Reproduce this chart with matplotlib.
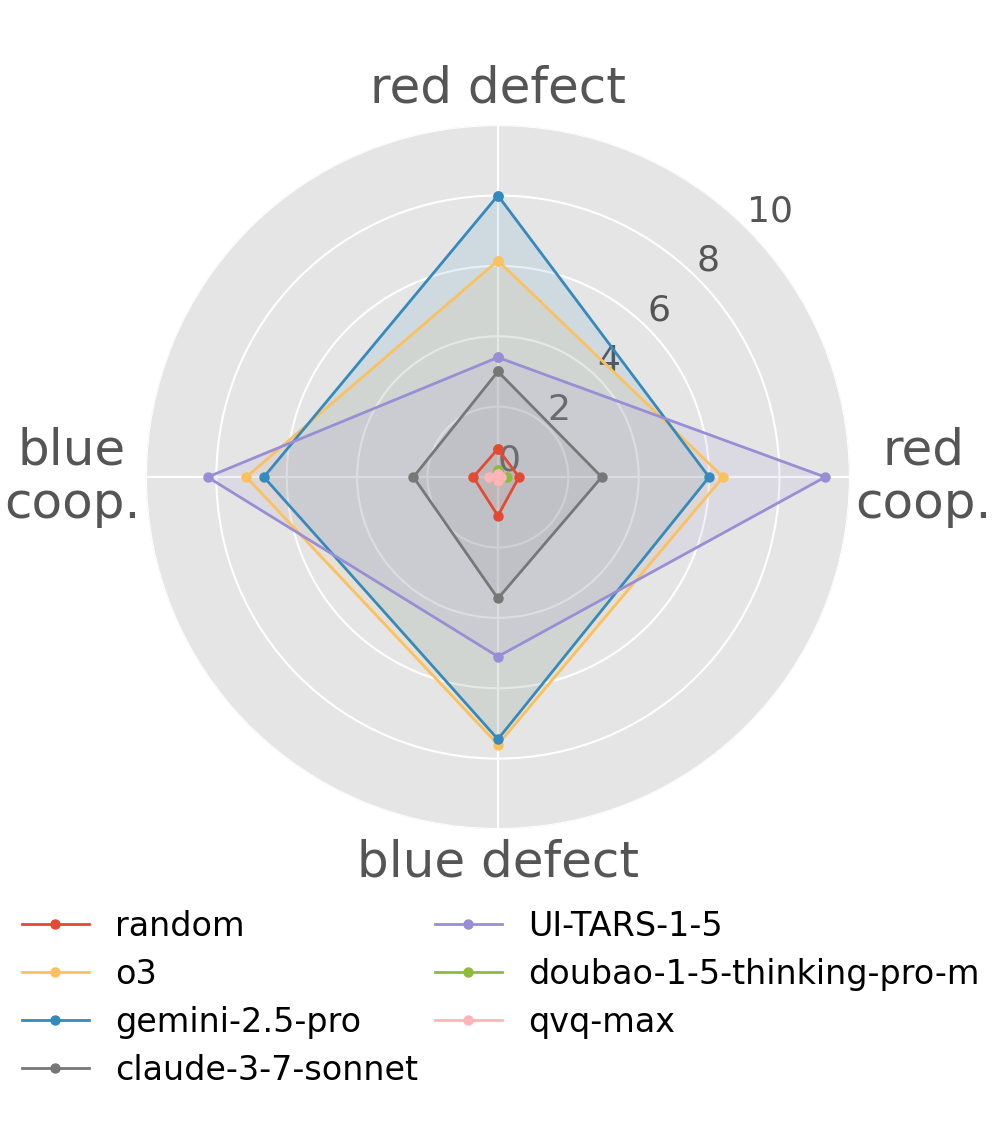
import numpy as np
import matplotlib
matplotlib.use("Agg")
import matplotlib.pyplot as plt

plt.style.use("ggplot")

# axes (clockwise from top)
categories = ["red defect", "red\ncoop.", "blue defect", "blue\ncoop."]

models = ["random", "o3", "gemini-2.5-pro", "claude-3-7-sonnet",
          "UI-TARS-1-5", "doubao-1-5-thinking-pro-m", "qvq-max"]

random_vals = [0.8, 0.6, 1.1, 0.7]
o3_vals = [6.15, 6.4, 7.6, 7.15]
gemini_vals = [8.0, 6.0, 7.45, 6.65]
claude_vals = [3.0, 2.95, 3.45, 2.4]
uitars_vals = [3.4, 9.3, 5.1, 8.25]
doubao_vals = [0.2, 0.25, 0.1, 0.1]
qvq_vals = [0.1, 0.1, 0.1, 0.25]

all_vals = [random_vals, o3_vals, gemini_vals, claude_vals,
            uitars_vals, doubao_vals, qvq_vals]
colors = ["#E24A33", "#FBC15E", "#348ABD", "#777777",
          "#988ED5", "#8EBA42", "#FFB5B8"]

angles = np.linspace(0, 2 * np.pi, len(categories), endpoint=False)
angles_closed = np.concatenate([angles, angles[:1]])

fig = plt.figure(figsize=(9.97, 11.36), dpi=100)
fig.patch.set_facecolor("white")
ax = fig.add_axes([0.1464, 0.2702, 0.706, 0.6197], polar=True)
ax.set_theta_offset(np.pi / 2)
ax.set_theta_direction(-1)

for name, vals, c in zip(models, all_vals, colors):
    v = np.concatenate([vals, vals[:1]])
    ax.plot(angles_closed, v, color=c, linewidth=2, marker="o", markersize=6.5, label=name)
    ax.fill(angles_closed, v, color=c, alpha=0.12)

ax.set_ylim(0, 10)
ax.set_yticks([0, 2, 4, 6, 8, 10])
ax.set_yticklabels(["0", "2", "4", "6", "8", "10"], fontsize=26, color="#555555")
ax.set_rlabel_position(45)
ax.set_xticks(angles)
ax.set_xticklabels([])
# category labels placed just outside the disc
label_r = [11.05, 12.1, 10.95, 12.1]
for a, r, lab in zip(angles, label_r, categories):
    ax.text(a, r, lab, ha="center", va="center", fontsize=36, color="#555555",
            linespacing=1.15, clip_on=False)
ax.grid(color="white", linewidth=1.5)
ax.spines["polar"].set_visible(False)

fig.legend(loc="upper left", bbox_to_anchor=(-0.008, 0.2255), ncol=2, frameon=False,
           fontsize=24, handlelength=2.0, columnspacing=0.5, labelspacing=0.45)

fig.savefig("out.png", dpi=100)
